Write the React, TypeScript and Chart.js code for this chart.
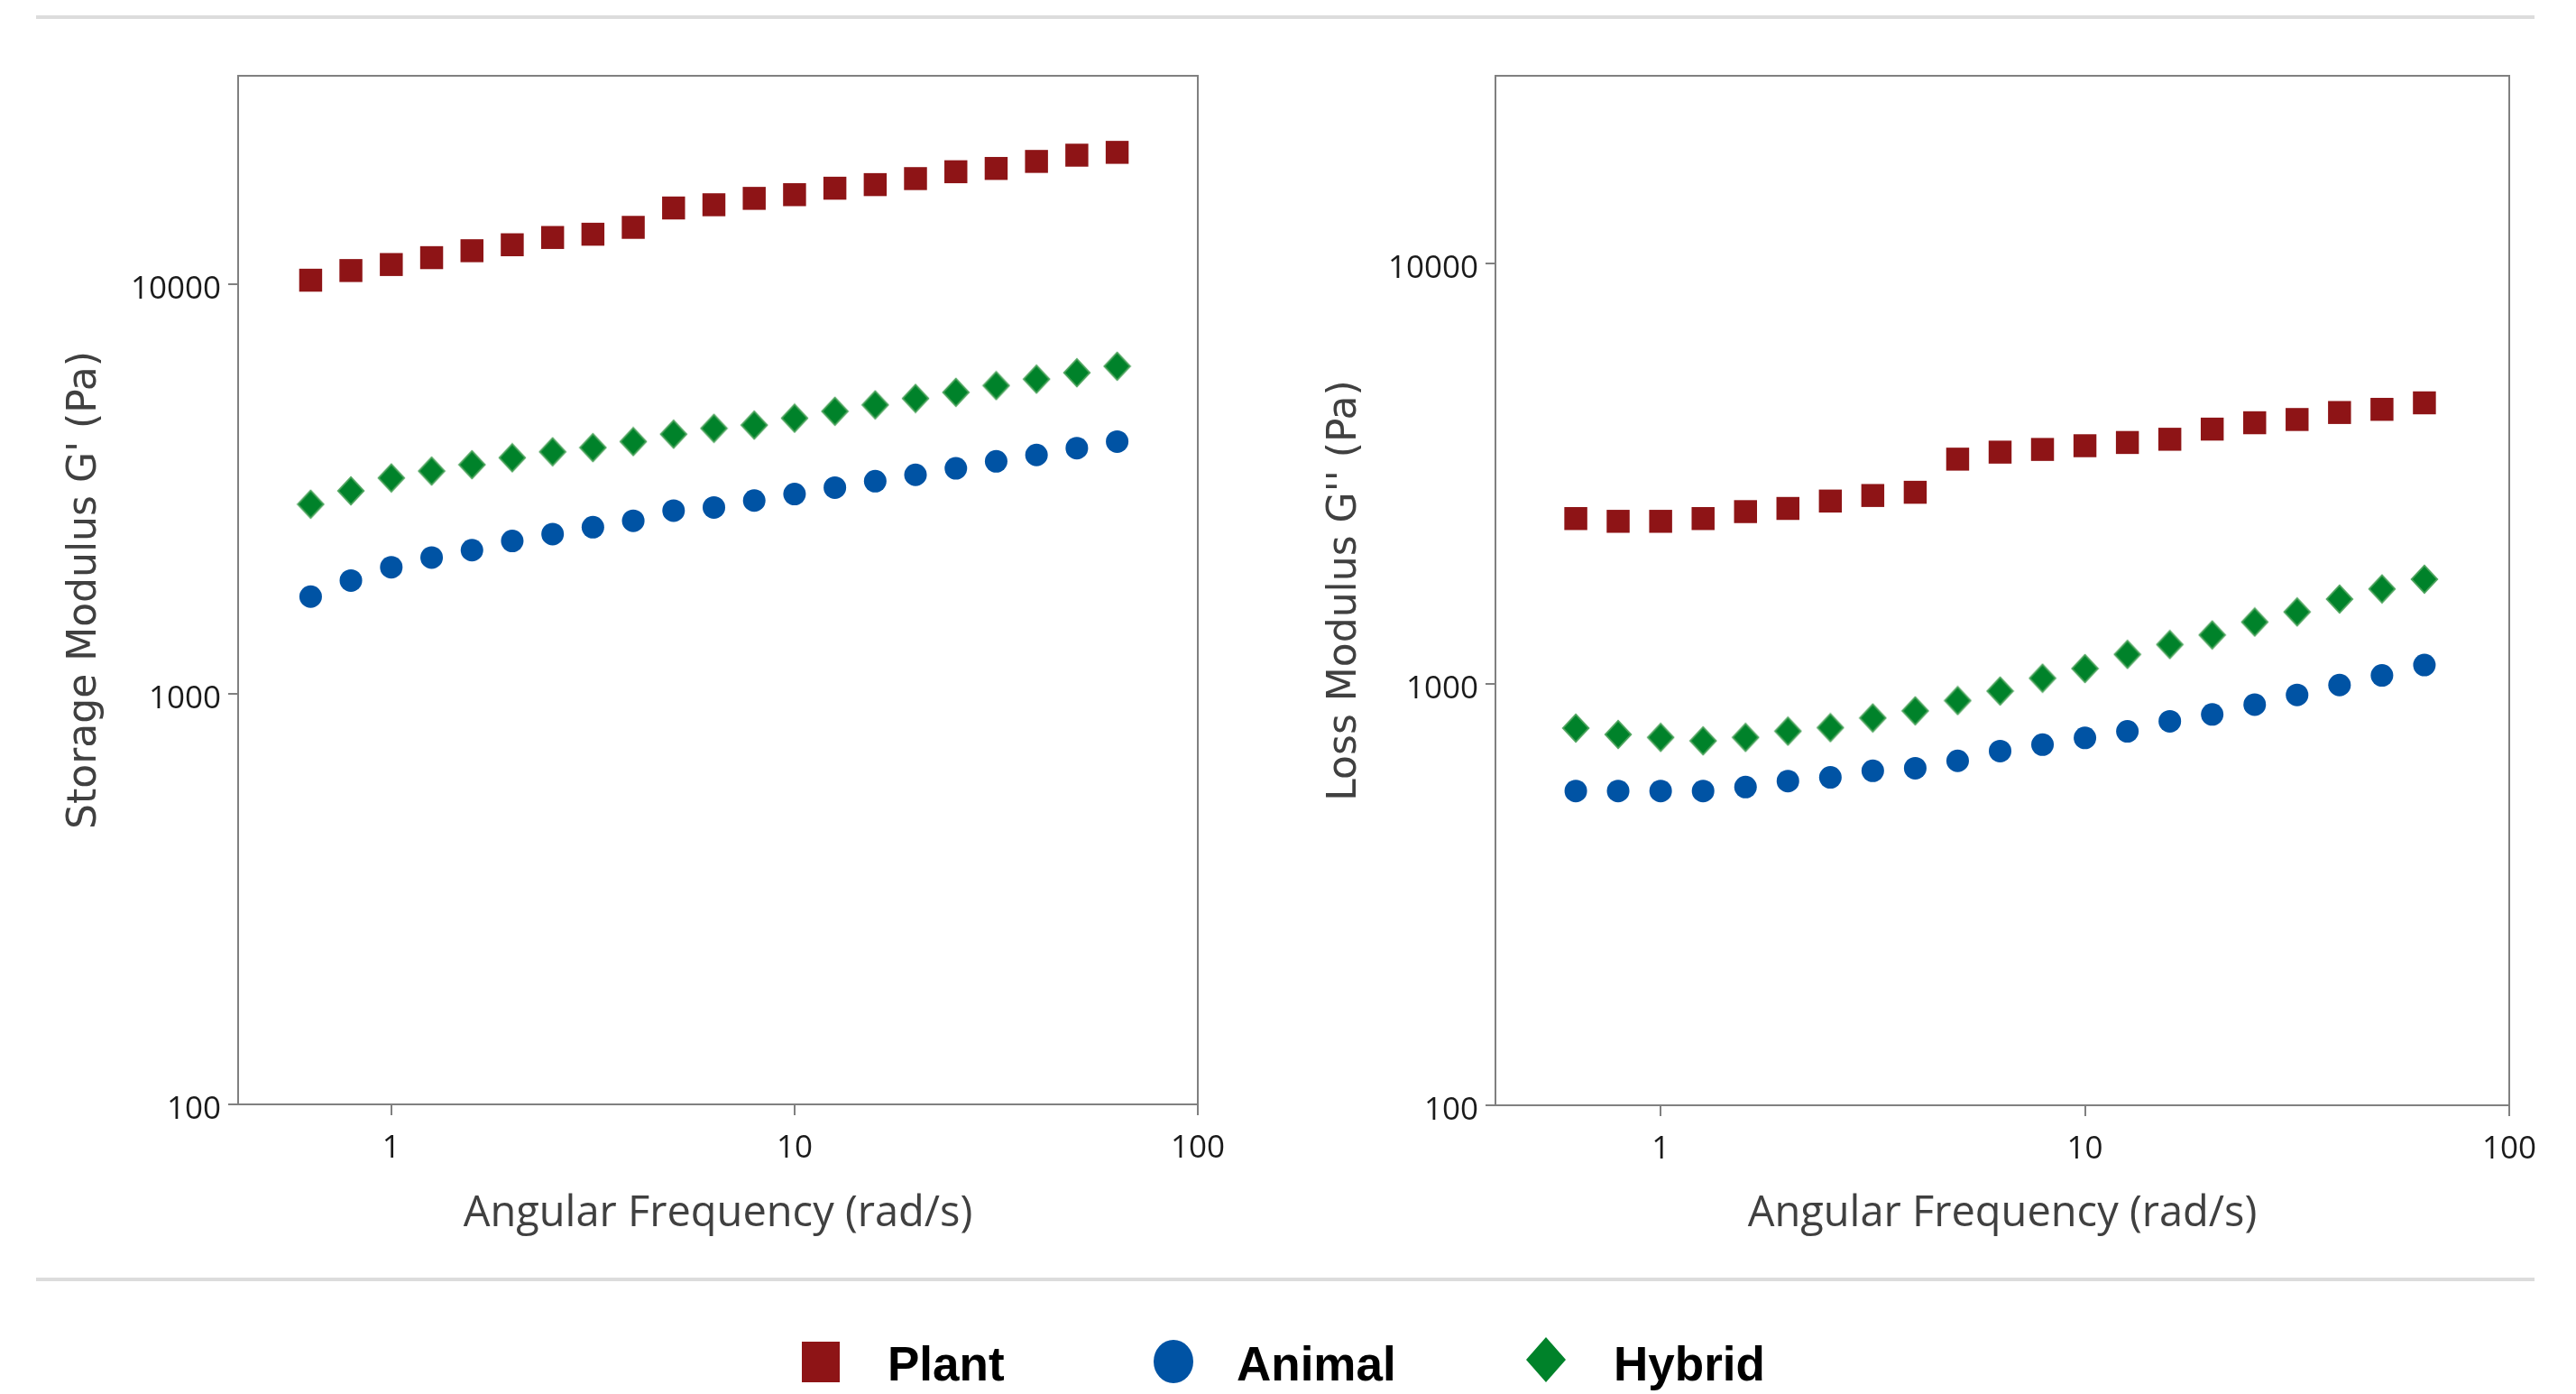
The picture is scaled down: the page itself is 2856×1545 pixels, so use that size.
import React, { useEffect, useRef } from 'react';
import { Chart, registerables } from 'chart.js';

Chart.register(...registerables);

// ---------- data ----------
const frequencies = [0.631, 0.794, 1, 1.259, 1.585, 1.995, 2.512, 3.162, 3.981, 5.012, 6.31, 7.943, 10, 12.59, 15.85, 19.95, 25.12, 31.62, 39.81, 50.12, 63.1];

const seriesNames = ['Plant', 'Animal', 'Hybrid'];
const seriesColors = ['#8E1416', '#0053A4', '#00822A'];

const storagePlant = [10220, 10790, 11160, 11600, 12060, 12470, 12990, 13230, 13750, 15330, 15610, 16180, 16520, 17130, 17480, 18080, 18790, 19140, 19910, 20620, 20950];
const storageAnimal = [1730, 1893, 2040, 2154, 2245, 2364, 2458, 2554, 2648, 2804, 2854, 2967, 3076, 3190, 3306, 3428, 3554, 3696, 3831, 3982, 4130];
const storageHybrid = [2906, 3132, 3368, 3500, 3628, 3772, 3900, 3993, 4130, 4306, 4450, 4530, 4710, 4896, 5076, 5263, 5445, 5656, 5865, 6080, 6305];

const lossPlant = [2476, 2439, 2439, 2476, 2572, 2617, 2725, 2809, 2859, 3427, 3561, 3614, 3688, 3754, 3821, 4039, 4182, 4257, 4423, 4500, 4663];
const lossAnimal = [558, 558, 558, 558, 570, 589, 601, 623, 632, 658, 694, 719, 746, 773, 817, 848, 895, 944, 996, 1050, 1111];
const lossHybrid = [787, 760, 748, 734, 748, 774, 789, 832, 865, 915, 964, 1034, 1090, 1178, 1243, 1310, 1406, 1486, 1594, 1685, 1777];

const xTickValues = [1, 10, 100];
const yTickValues = [100, 1000, 10000];

const xTitle = 'Angular Frequency (rad/s)';
const storageTitle = "Storage Modulus G' (Pa)";
const lossTitle = "Loss Modulus G'' (Pa)";

// ---------- helpers ----------
function makeDiamond(color: string, edge: string, w: number, h: number) {
  const c = document.createElement('canvas');
  c.width = w;
  c.height = h;
  const ctx = c.getContext('2d')!;
  ctx.beginPath();
  ctx.moveTo(w / 2, 0.5);
  ctx.lineTo(w - 0.5, h / 2);
  ctx.lineTo(w / 2, h - 0.5);
  ctx.lineTo(0.5, h / 2);
  ctx.closePath();
  ctx.fillStyle = edge;
  ctx.fill();
  ctx.beginPath();
  ctx.moveTo(w / 2, 3);
  ctx.lineTo(w - 3, h / 2);
  ctx.lineTo(w / 2, h - 3);
  ctx.lineTo(3, h / 2);
  ctx.closePath();
  ctx.fillStyle = color;
  ctx.fill();
  return c;
}

type PanelCfg = {
  values: number[][];
  yTitle: string;
  yMax: number;
  xMin: number;
  yAxisWidth: number;
  xAxisHeight: number;
  padRight: number;
  yTitleX: number;
};

const boxAndTitles = {
  id: 'boxAndTitles',
  afterDraw(chart: any, _args: any, opts: any) {
    const { ctx, chartArea } = chart;
    ctx.save();
    ctx.strokeStyle = '#808080';
    ctx.lineWidth = 2;
    ctx.strokeRect(chartArea.left, chartArea.top, chartArea.right - chartArea.left, chartArea.bottom - chartArea.top);
    // x title
    ctx.fillStyle = '#404040';
    ctx.font = '47px "Open Sans"';
    ctx.textAlign = 'center';
    ctx.textBaseline = 'middle';
    ctx.fillText(opts.xTitle, (chartArea.left + chartArea.right) / 2, opts.xTitleY);
    // y title
    ctx.translate(opts.yTitleX, (chartArea.top + chartArea.bottom) / 2);
    ctx.rotate(-Math.PI / 2);
    ctx.font = '44px "DejaVu Sans"';
    ctx.fillText(opts.yTitle, 0, 0);
    ctx.restore();
  },
};

function Panel({ cfg, left }: { cfg: PanelCfg; left: number }) {
  const ref = useRef<HTMLCanvasElement | null>(null);
  useEffect(() => {
    if (!ref.current) return;
    const diamond = makeDiamond(seriesColors[2], '#4CA35C', 32, 34);
    const styles: any[] = ['rect', 'circle', diamond];
    const radii = [18, 12.5, 16];
    const datasets = seriesNames.map((name, i) => ({
      label: name,
      data: frequencies.map((f, j) => ({ x: f, y: cfg.values[i][j] })),
      pointStyle: styles[i],
      pointRadius: radii[i],
      pointBorderWidth: 0,
      backgroundColor: seriesColors[i],
      borderColor: seriesColors[i],
      showLine: false,
    }));
    const tickFont = { family: '"Open Sans"', size: 35 };
    const chart = new Chart(ref.current, {
      type: 'scatter',
      data: { datasets },
      options: {
        animation: false,
        responsive: false,
        events: [],
        layout: { padding: { top: 84, right: cfg.padRight, bottom: 0, left: 0 } },
        plugins: {
          legend: { display: false },
          tooltip: { enabled: false },
          boxAndTitles: { xTitle, yTitle: cfg.yTitle, xTitleY: 1346, yTitleX: cfg.yTitleX },
        } as any,
        scales: {
          x: {
            type: 'logarithmic',
            min: cfg.xMin,
            max: 100,
            afterBuildTicks: (s: any) => {
              s.ticks = xTickValues.map((v) => ({ value: v }));
            },
            afterFit: (s: any) => {
              s.height = cfg.xAxisHeight;
            },
            ticks: {
              callback: (v: any) => String(v),
              font: tickFont,
              color: '#1a1a1a',
              padding: 16,
              maxRotation: 0,
              autoSkip: false,
            },
            grid: { display: true, drawOnChartArea: false, drawTicks: true, tickLength: 12, color: '#808080', lineWidth: 2 },
            border: { display: true, color: '#808080', width: 2 },
          },
          y: {
            type: 'logarithmic',
            min: 100,
            max: cfg.yMax,
            afterBuildTicks: (s: any) => {
              s.ticks = yTickValues.map((v) => ({ value: v }));
            },
            afterFit: (s: any) => {
              s.width = cfg.yAxisWidth;
            },
            ticks: {
              callback: (v: any) => String(v),
              font: tickFont,
              color: '#1a1a1a',
              padding: 8,
              labelOffset: 6,
              autoSkip: false,
            },
            grid: { display: true, drawOnChartArea: false, drawTicks: true, tickLength: 11, color: '#808080', lineWidth: 2 },
            border: { display: true, color: '#808080', width: 2 },
          },
        },
      } as any,
      plugins: [boxAndTitles],
    });
    return () => chart.destroy();
  }, [cfg]);
  return (
    <canvas
      ref={ref}
      width={1428}
      height={1545}
      style={{ position: 'absolute', left, top: 0, width: 1428, height: 1545 }}
    />
  );
}

const leftCfg: PanelCfg = {
  values: [storagePlant, storageAnimal, storageHybrid],
  yTitle: storageTitle,
  yMax: 32200,
  xMin: 0.417,
  yAxisWidth: 264,
  xAxisHeight: 321,
  padRight: 100,
  yTitleX: 95,
};

const rightCfg: PanelCfg = {
  values: [lossPlant, lossAnimal, lossHybrid],
  yTitle: lossTitle,
  yMax: 27900,
  xMin: 0.408,
  yAxisWidth: 230,
  xAxisHeight: 320,
  padRight: 74,
  yTitleX: 64,
};

const legendItems = [
  { shape: 'square', cx: 910, textLeft: 984 },
  { shape: 'circle', cx: 1301, textLeft: 1371 },
  { shape: 'diamond', cx: 1714, textLeft: 1789 },
];

export default function App() {
  return (
    <div style={{ position: 'fixed', left: 0, top: 0, width: 2856, height: 1545, overflow: 'hidden', background: '#fff' }}>
      <div style={{ position: 'absolute', left: 40, top: 17, width: 2770, height: 4, background: '#dcdcdc' }} />
      <div style={{ position: 'absolute', left: 40, top: 1416, width: 2770, height: 4, background: '#dcdcdc' }} />
      <Panel cfg={leftCfg} left={0} />
      <Panel cfg={rightCfg} left={1428} />
      {legendItems.map((it, i) => {
        const color = seriesColors[i];
        let shape: React.ReactNode;
        if (it.shape === 'square') {
          shape = <div style={{ position: 'absolute', left: it.cx - 21, top: 1487, width: 42, height: 45, background: color }} />;
        } else if (it.shape === 'circle') {
          shape = <div style={{ position: 'absolute', left: it.cx - 22, top: 1485, width: 44, height: 48, borderRadius: '50%', background: color }} />;
        } else {
          shape = (
            <div
              style={{
                position: 'absolute',
                left: it.cx - 22,
                top: 1482,
                width: 44,
                height: 50,
                background: color,
                clipPath: 'polygon(50% 0, 100% 50%, 50% 100%, 0 50%)',
              }}
            />
          );
        }
        return (
          <React.Fragment key={seriesNames[i]}>
            {shape}
            <div
              style={{
                position: 'absolute',
                left: it.textLeft,
                top: 1486,
                font: 'bold 53px "Liberation Sans", Arial, sans-serif',
                lineHeight: '52px',
                color: '#000',
                whiteSpace: 'nowrap',
              }}
            >
              {seriesNames[i]}
            </div>
          </React.Fragment>
        );
      })}
    </div>
  );
}
